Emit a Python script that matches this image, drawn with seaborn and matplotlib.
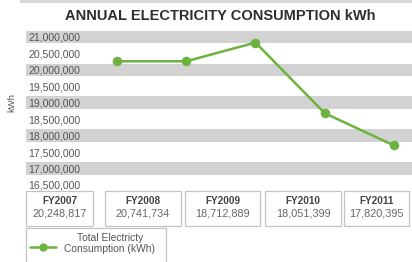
import matplotlib
matplotlib.use("Agg")
import matplotlib.pyplot as plt
import seaborn as sns
import pandas as pd
from matplotlib.patches import Rectangle
from matplotlib.lines import Line2D

# ---- data ----
years = ["FY2007", "FY2008", "FY2009", "FY2010", "FY2011"]
line_values = [20260000, 20260000, 20830000, 18680000, 17700000]
table_values = ["20,248,817", "20,741,734", "18,712,889", "18,051,399", "17,820,395"]
yticks = [16500000, 17000000, 17500000, 18000000, 18500000, 19000000,
          19500000, 20000000, 20500000, 21000000]
title = "ANNUAL ELECTRICITY CONSUMPTION kWh"
legend_label = "Total Electricty\nConsumption (kWh)"

sns.set_style("white")
plt.rcParams["font.family"] = ["Liberation Sans", "DejaVu Sans"]

W, H = 412, 262
fig = plt.figure(figsize=(W / 100, H / 100), dpi=100)

def fx(px):
    return px / W

def fy(py):
    return 1 - py / H

green = "#6cb33f"
ax = fig.add_axes([fx(26), fy(191.5), fx(412 - 26), (191.5 - 30.7) / H])

# alternating bands around each full million
for v in yticks:
    if v % 1000000 == 0:
        ax.axhspan(v - 190000, v + 190000, color="#d2d2d2", lw=0, zorder=0)

df = pd.DataFrame({"year": years, "kwh": line_values})
sns.pointplot(data=df, x="year", y="kwh", color=green, ax=ax,
              markers="o", markersize=5.5, linewidth=1.8, zorder=3)

ax.set_xlim(-1.314, 4.26)
ax.set_ylim(16300000, 21190000)
ax.set_xticks([])
ax.set_yticks(yticks)
ax.set_yticklabels([f"{v:,}" for v in yticks], fontsize=7.6, color="#555555")
for lab in ax.get_yticklabels():
    lab.set_horizontalalignment("left")
ax.tick_params(axis="y", length=0, pad=-1.5)
ax.set_xlabel("")
ax.set_ylabel("")
for s in ax.spines.values():
    s.set_visible(False)

fig.text(fx(12), fy(103), "kWh", rotation=90, ha="center", va="center",
         fontsize=6.8, color="#555555")

fig.text(fx(220), fy(16), title, ha="center", va="center",
         fontsize=10.5, fontweight="bold", color="#2e2e2e")

# top strip
fig.add_artist(Rectangle((fx(20), fy(3)), fx(392), 3 / H, transform=fig.transFigure,
                         facecolor="#d8d8d8", edgecolor="none"))

# table boxes
starts = [26, 105, 185, 265, 344]
ends = [93, 181, 260, 341, 409]
for yr, val, x0, x1 in zip(years, table_values, starts, ends):
    fig.add_artist(Rectangle((fx(x0), fy(226)), fx(x1 - x0), 35 / H,
                             transform=fig.transFigure, facecolor="white",
                             edgecolor="#c4c4c4", lw=0.9))
    cx = (x0 + x1) / 2
    fig.text(fx(cx), fy(201), yr, ha="center", va="center", fontsize=7.2,
             fontweight="bold", color="#444444")
    fig.text(fx(cx), fy(213.5), val, ha="center", va="center", fontsize=7.8,
             color="#666666")

# legend box
fig.add_artist(Rectangle((fx(26), fy(266)), fx(140), 38 / H,
                         transform=fig.transFigure, facecolor="white",
                         edgecolor="#c4c4c4", lw=0.9))
fig.add_artist(Line2D([fx(30), fx(56)], [fy(247), fy(247)], color=green, lw=1.8,
                      transform=fig.transFigure))
fig.add_artist(Line2D([fx(43)], [fy(247)], color=green, marker="o", markersize=5,
                      transform=fig.transFigure))
fig.text(fx(110), fy(243.5), legend_label, ha="center", va="center", fontsize=7.4,
         color="#555555", linespacing=1.1)

fig.savefig("out.png", dpi=100)
